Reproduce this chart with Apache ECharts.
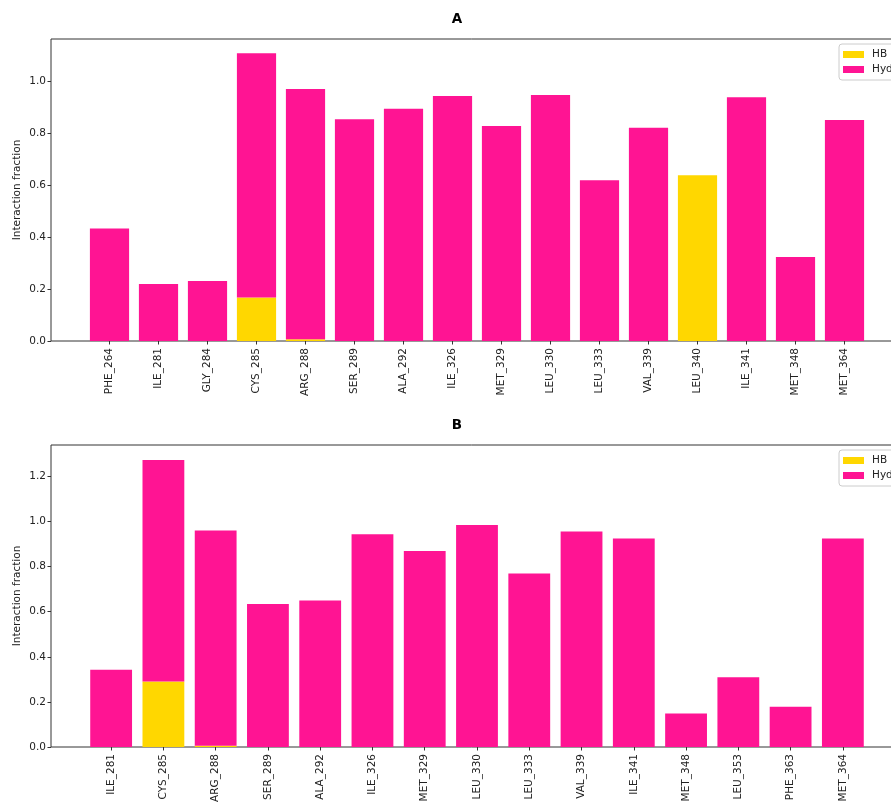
<!DOCTYPE html>
<html><head><meta charset="utf-8">
<script src="https://cdn.jsdelivr.net/npm/echarts@6/dist/echarts.min.js"></script>
<style>html,body{margin:0;padding:0;background:#fff}#c{width:891px;height:802px}</style>
</head><body><div id="c"></div>
<script>
const residuesA = ['PHE_264','ILE_281','GLY_284','CYS_285','ARG_288','SER_289','ALA_292','ILE_326','MET_329','LEU_330','LEU_333','VAL_339','LEU_340','ILE_341','MET_348','MET_364'];
const hbA  = [0, 0, 0, 0.167, 0.007, 0, 0, 0, 0, 0, 0, 0, 0.637, 0, 0, 0];
const hydA = [0.433, 0.219, 0.231, 0.940, 0.962, 0.853, 0.893, 0.942, 0.827, 0.946, 0.618, 0.820, 0, 0.937, 0.323, 0.850];

const residuesB = ['ILE_281','CYS_285','ARG_288','SER_289','ALA_292','ILE_326','MET_329','LEU_330','LEU_333','VAL_339','ILE_341','MET_348','LEU_353','PHE_363','MET_364'];
const hbB  = [0, 0.290, 0.006, 0, 0, 0, 0, 0, 0, 0, 0, 0, 0, 0, 0];
const hydB = [0.343, 0.983, 0.954, 0.634, 0.649, 0.943, 0.869, 0.984, 0.769, 0.955, 0.924, 0.148, 0.309, 0.179, 0.924];

const yTicksA = [0, 0.2, 0.4, 0.6, 0.8, 1.0];
const yTicksB = [0, 0.2, 0.4, 0.6, 0.8, 1.0, 1.2];
const yMaxA = 1.1615, yMaxB = 1.339;
const seriesNames = ['HB', 'Hydrophobic'];
const colors = {HB: '#FFD700', Hydrophobic: '#FF1493'};

const FONT = 'DejaVu Sans';
const chart = echarts.init(document.getElementById('c'), null, {renderer: 'canvas'});

function mainY(gi, max, ticks) {
  return {
    type: 'value', gridIndex: gi, min: 0, max: max, interval: 0.2,
    name: 'Interaction fraction', nameLocation: 'middle', nameGap: 28, nameRotate: 90, nameMoveOverlap: false,
    nameTextStyle: {fontFamily: FONT, fontSize: 10.5, color: '#222'},
    axisLine: {show: false}, splitLine: {show: false},
    axisTick: {show: true, length: 3.5, customValues: ticks, lineStyle: {color: '#333', width: 1}},
    axisLabel: {show: true, customValues: ticks, margin: 5, fontFamily: FONT, fontSize: 10.5, color: '#222', formatter: v => v.toFixed(1)}
  };
}
function catX(gi, data) {
  return {
    type: 'category', gridIndex: gi, data: data,
    axisLine: {show: false},
    axisTick: {show: true, alignWithLabel: true, length: 3.5, lineStyle: {color: '#333', width: 1}},
    axisLabel: {rotate: 90, margin: 7, interval: 0, fontFamily: FONT, fontSize: 10.5, color: '#222'}
  };
}
function bars(xi, yi, stack, hb, hyd) {
  return [
    {name: seriesNames[0], type: 'bar', xAxisIndex: xi, yAxisIndex: yi, stack: stack, data: hb, barWidth: '80%',
     itemStyle: {color: colors.HB}},
    {name: seriesNames[1], type: 'bar', xAxisIndex: xi, yAxisIndex: yi, stack: stack, data: hyd, barWidth: '80%',
     itemStyle: {color: colors.Hydrophobic}}
  ];
}
function legend(top) {
  return {
    left: 839, top: top, orient: 'vertical', data: seriesNames, icon: 'rect',
    itemWidth: 21, itemHeight: 7, itemGap: 4, padding: [5, 6, 5, 4],
    borderColor: '#ccc', borderWidth: 1, borderRadius: 3, backgroundColor: '#fff',
    textStyle: {fontFamily: FONT, fontSize: 10.5, color: '#222', padding: [0, 0, 0, 3]}
  };
}
const gridCommon = {outerBoundsMode: 'none', containLabel: false};

chart.setOption({
  animation: false,
  backgroundColor: '#fff',
  title: [
    {text: 'A', left: 457, top: 12, textAlign: 'center', padding: 0, textStyle: {fontFamily: FONT, fontSize: 13.5, fontWeight: 'bold', color: '#000'}},
    {text: 'B', left: 457, top: 418, textAlign: 'center', padding: 0, textStyle: {fontFamily: FONT, fontSize: 13.5, fontWeight: 'bold', color: '#000'}}
  ],
  legend: [legend(44), legend(450)],
  grid: [
    Object.assign({left: 51, top: 39, width: 852, height: 302, show: true, borderColor: '#333', borderWidth: 1, backgroundColor: 'transparent'}, gridCommon),
    Object.assign({left: 85, top: 39, width: 784, height: 302}, gridCommon),
    Object.assign({left: 51, top: 445, width: 856, height: 302, show: true, borderColor: '#333', borderWidth: 1, backgroundColor: 'transparent'}, gridCommon),
    Object.assign({left: 85, top: 445, width: 784, height: 302}, gridCommon)
  ],
  xAxis: [
    {type: 'value', gridIndex: 0, min: 0, max: 1, show: false},
    catX(1, residuesA),
    {type: 'value', gridIndex: 2, min: 0, max: 1, show: false},
    catX(3, residuesB)
  ],
  yAxis: [
    mainY(0, yMaxA, yTicksA),
    {type: 'value', gridIndex: 1, min: 0, max: yMaxA, show: false},
    mainY(2, yMaxB, yTicksB),
    {type: 'value', gridIndex: 3, min: 0, max: yMaxB, show: false}
  ],
  series: [].concat(bars(1, 1, 'A', hbA, hydA), bars(3, 3, 'B', hbB, hydB))
});
</script>
</body></html>
